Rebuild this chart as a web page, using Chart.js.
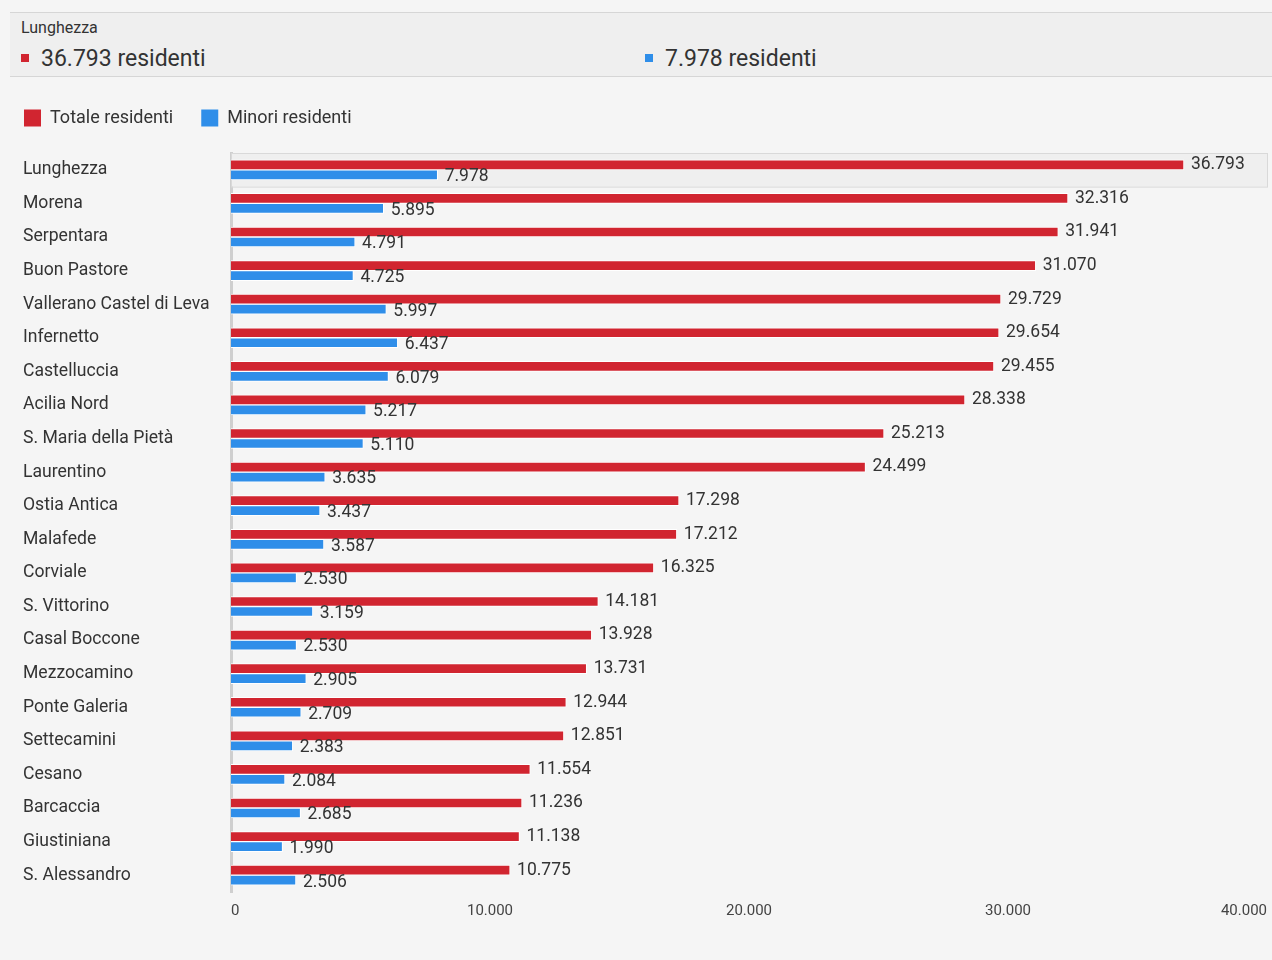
<!DOCTYPE html>
<html lang="it">
  <head>
    <meta charset="utf-8" />
    <title>Residenti per zona</title>
    <style>
      * { margin: 0; padding: 0; font-family: Roboto, sans-serif; }
      body { width: 1272px; height: 960px; background: #f5f5f5; position: relative; overflow: hidden; color: #333; }
      .head {
        position: absolute; left: 10px; top: 12px; width: 1262px; height: 63px;
        background: #efefef; border-top: 1px solid #d6d6d6; border-bottom: 1px solid #d6d6d6;
      }
      .head .title { position: absolute; left: 11px; top: 5px; font-size: 16px; }
      .head .val { position: absolute; top: 32px; font-size: 23px; }
      .head .val i { display: inline-block; width: 8px; height: 8px; margin-right: 12px; vertical-align: 4px; }
      .chartBox { position: absolute; left: 0; top: 88px; width: 1272px; height: 872px; }
    </style>
  </head>
  <body>
    <div class="head">
      <div class="title" id="selName"></div>
      <div class="val" style="left: 11px"><i style="background: #d12530"></i><span id="selTot"></span></div>
      <div class="val" style="left: 635px"><i style="background: #2f8ee9"></i><span id="selMin"></span></div>
    </div>
    <div class="chartBox"><canvas id="myChart"></canvas></div>

    <script src="https://cdn.jsdelivr.net/npm/chart.js"></script>
    <script>
      const zone = [
        "Lunghezza", "Morena", "Serpentara", "Buon Pastore", "Vallerano Castel di Leva",
        "Infernetto", "Castelluccia", "Acilia Nord", "S. Maria della Pietà", "Laurentino",
        "Ostia Antica", "Malafede", "Corviale", "S. Vittorino", "Casal Boccone",
        "Mezzocamino", "Ponte Galeria", "Settecamini", "Cesano", "Barcaccia",
        "Giustiniana", "S. Alessandro",
      ];
      const totale = [
        36793, 32316, 31941, 31070, 29729, 29654, 29455, 28338, 25213, 24499, 17298,
        17212, 16325, 14181, 13928, 13731, 12944, 12851, 11554, 11236, 11138, 10775,
      ];
      const minori = [
        7978, 5895, 4791, 4725, 5997, 6437, 6079, 5217, 5110, 3635, 3437,
        3587, 2530, 3159, 2530, 2905, 2709, 2383, 2084, 2685, 1990, 2506,
      ];
      const xTicks = [0, 10000, 20000, 30000, 40000];
      const selected = 0; // row highlighted in the header

      // thousands with a dot, as in Italian
      function fmt(n) {
        return String(Math.round(n)).replace(/\B(?=(\d{3})+(?!\d))/g, ".");
      }

      document.getElementById("selName").textContent = zone[selected];
      document.getElementById("selTot").textContent = fmt(totale[selected]) + " residenti";
      document.getElementById("selMin").textContent = fmt(minori[selected]) + " residenti";

      // gray box behind the selected row
      const highlightRow = {
        id: "highlightRow",
        beforeDatasetsDraw(chart) {
          const y = chart.scales.y;
          const band = y.getPixelForValue(1) - y.getPixelForValue(0);
          const top = y.getPixelForValue(selected) - band / 2;
          const ctx = chart.ctx;
          ctx.save();
          ctx.fillStyle = "#efefef";
          ctx.strokeStyle = "#d9d9d9";
          ctx.lineWidth = 1;
          ctx.fillRect(chart.chartArea.left, top, chart.chartArea.right - chart.chartArea.left + 1, band);
          ctx.strokeRect(chart.chartArea.left + 0.5, top + 0.5, chart.chartArea.right - chart.chartArea.left, band);
          ctx.restore();
        },
      };

      // value labels at the end of each bar
      const valueLabels = {
        id: "valueLabels",
        afterDatasetsDraw(chart) {
          const ctx = chart.ctx;
          ctx.save();
          ctx.font = "17.5px Roboto";
          ctx.fillStyle = "#333";
          ctx.textAlign = "left";
          ctx.textBaseline = "middle";
          chart.data.datasets.forEach((ds, di) => {
            chart.getDatasetMeta(di).data.forEach((bar, i) => {
              ctx.fillText(fmt(ds.data[i]), bar.x + 7, bar.y + (di === 1 ? 2 : 0));
            });
          });
          ctx.restore();
        },
      };

      // legend: less room below, pulled up and to the left edge
      const legendTweak = {
        id: "legendTweak",
        beforeInit(chart) {
          const fit = chart.legend.fit;
          chart.legend.fit = function () {
            fit.bind(chart.legend)();
            this.height -= 1;
          };
        },
        afterLayout(chart) {
          chart.legend.left = -4;
          chart.legend.top -= 17;
        },
      };

      const data = {
        labels: zone,
        datasets: [
          {
            label: "Totale residenti",
            data: totale,
            backgroundColor: "#d12530",
            borderColor: "#ffffff",
            borderWidth: 1,
            barThickness: 10,
          },
          {
            label: "Minori residenti",
            data: minori,
            backgroundColor: "#2f8ee9",
            borderColor: "#ffffff",
            borderWidth: 1,
            barThickness: 10,
          },
        ],
      };

      const config = {
        type: "bar",
        data: data,
        plugins: [highlightRow, valueLabels, legendTweak],
        options: {
          indexAxis: "y",
          responsive: false,
          animation: false,
          layout: { padding: { left: 23, right: 5, top: 10, bottom: 38 } },
          plugins: {
            legend: {
              position: "top",
              align: "start",
              labels: {
                boxWidth: 17,
                boxHeight: 17,
                padding: 28,
                color: "#333",
                font: { family: "Roboto", size: 18 },
                generateLabels(chart) {
                  return chart.data.datasets.map((ds, i) => ({
                    text: ds.label,
                    fillStyle: ds.backgroundColor,
                    strokeStyle: ds.backgroundColor,
                    lineWidth: 0,
                    datasetIndex: i,
                    fontColor: "#333",
                  }));
                },
              },
            },
            tooltip: { enabled: false },
          },
          scales: {
            x: {
              min: 0,
              max: 40000,
              afterBuildTicks(scale) {
                scale.ticks = xTicks.map((v) => ({ value: v }));
              },
              grid: { display: false },
              border: { display: false },
              ticks: {
                align: "inner",
                padding: 2,
                color: "#444",
                font: { family: "Roboto", size: 15 },
                callback: (v) => fmt(v),
              },
            },
            y: {
              afterFit(scale) {
                scale.width = 208;
              },
              grid: { display: false },
              border: { display: true, color: "#cfcfcf", width: 3 },
              ticks: {
                crossAlign: "far",
                color: "#333",
                font: { family: "Roboto", size: 17.6 },
              },
            },
          },
        },
      };

      const canvas = document.getElementById("myChart");
      canvas.width = 1272;
      canvas.height = 872;
      const myChart = new Chart(canvas, config);
    </script>
  </body>
</html>
